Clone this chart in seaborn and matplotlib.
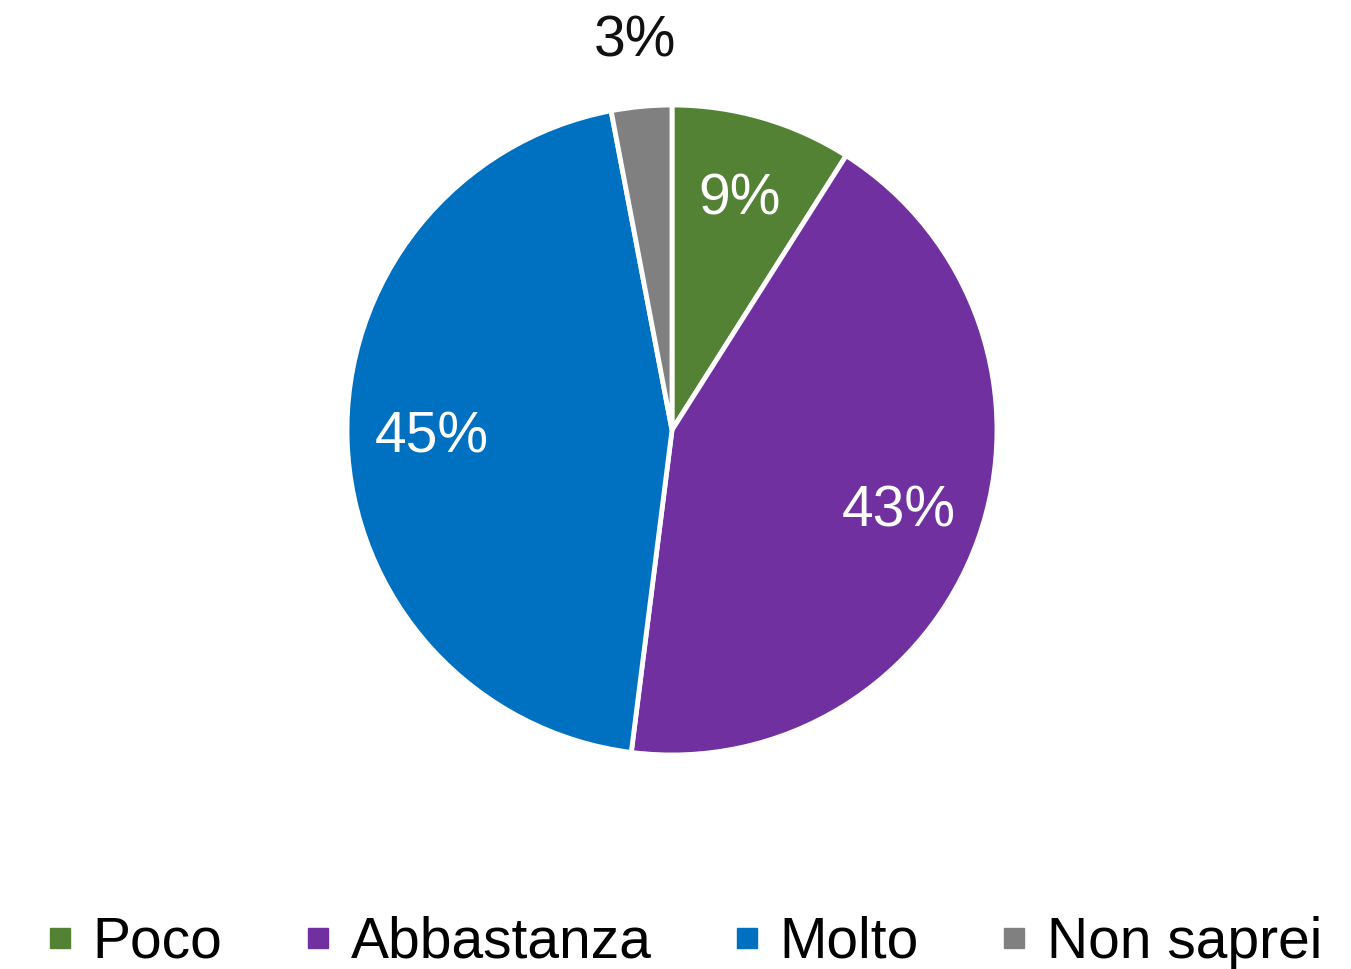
import matplotlib
matplotlib.use("Agg")
import matplotlib.pyplot as plt
from matplotlib.lines import Line2D
import seaborn as sns
import numpy as np

# data
categories = ['Poco', 'Abbastanza', 'Molto', 'Non saprei']
values = [9, 43, 45, 3]
colors = ['#548235', '#7030A0', '#0070C0', '#808080']

sns.set_theme(style='white')
plt.rcParams['font.family'] = ['Liberation Sans', 'DejaVu Sans']
plt.rcParams['text.color'] = 'black'

fig = plt.figure(figsize=(13.51, 9.69), dpi=100)
# pie centre ~ (672, 430) px, radius ~ 325 px
ax = fig.add_axes([(672 - 325) / 1351, (969 - 430 - 325) / 969, 650 / 1351, 650 / 969])

wedges, texts, autotexts = ax.pie(values, colors=colors, startangle=90, counterclock=False,
                                  autopct='%.0f%%', pctdistance=0.74,
                                  wedgeprops=dict(edgecolor='white', linewidth=3.5),
                                  textprops=dict(fontsize=41))
for w, t in zip(wedges, autotexts):
    t.set_color('white')
    if w.theta2 - w.theta1 < 15:
        # small slice: label sits outside
        ang = np.deg2rad((w.theta1 + w.theta2) / 2)
        t.set_position((1.2 * np.cos(ang), 1.2 * np.sin(ang)))
        t.set_color('#111111')
ax.set_xlim(-1, 1)
ax.set_ylim(-1, 1)
ax.set_aspect('equal')

handles = [Line2D([0], [0], marker='s', linestyle='none', markersize=14,
                  markerfacecolor=c, markeredgecolor=c) for c in colors]
fig.legend(handles, categories, loc='center', bbox_to_anchor=(0.508, 0.027), ncol=4,
           frameon=False, fontsize=41, handlelength=0.35, handletextpad=0.4,
           columnspacing=1.5, borderpad=0, borderaxespad=0, labelcolor='black')

fig.savefig('out.png', dpi=100)
